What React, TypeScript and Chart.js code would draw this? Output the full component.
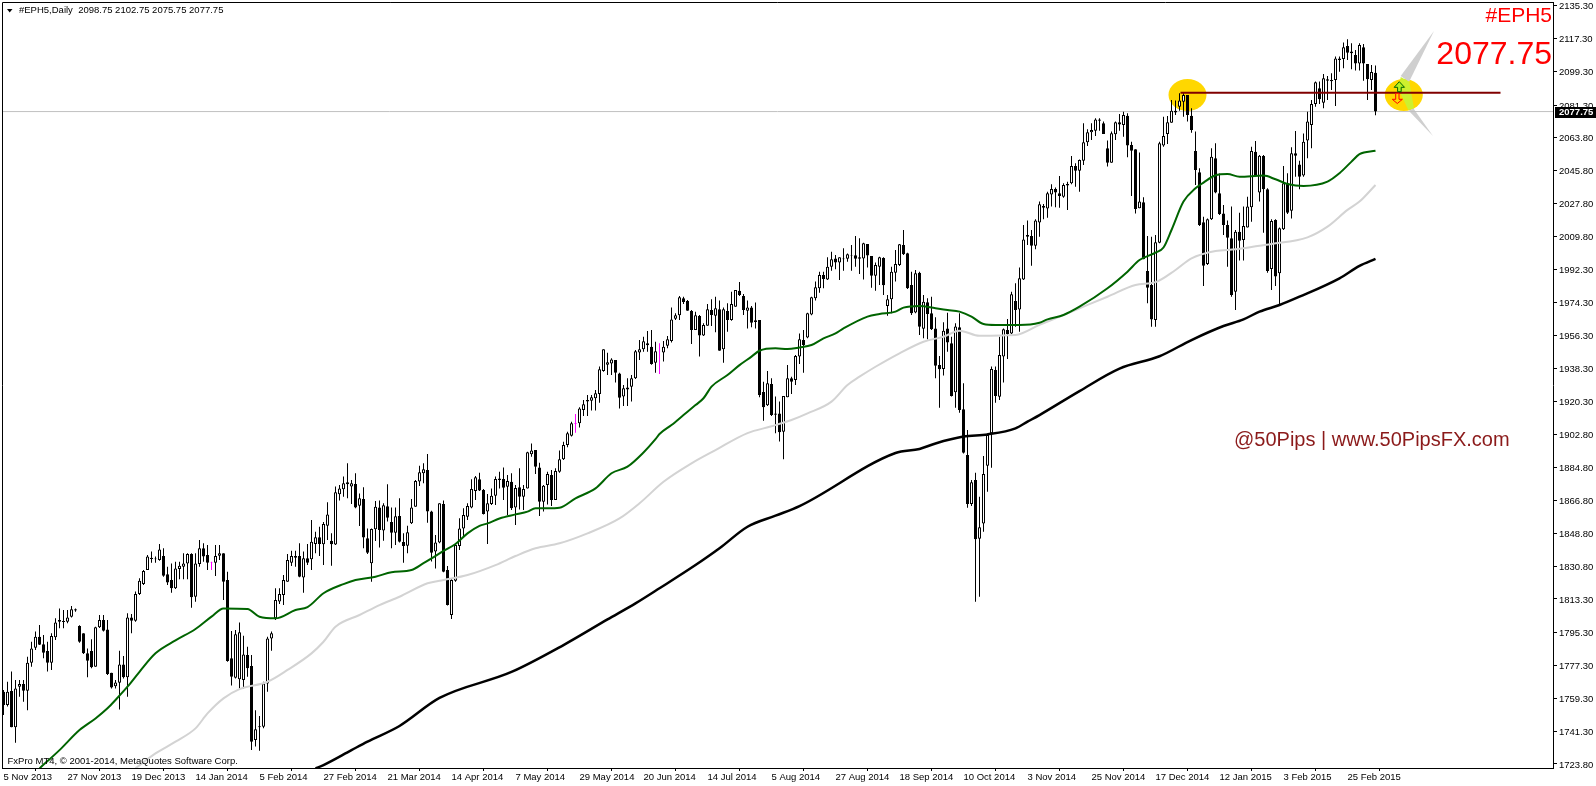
import React, { useEffect, useRef } from "react";
import { Chart, registerables } from "chart.js";

Chart.register(...registerables);

const dateLabels = ["5 Nov 2013","27 Nov 2013","19 Dec 2013","14 Jan 2014","5 Feb 2014","27 Feb 2014","21 Mar 2014","14 Apr 2014","7 May 2014","29 May 2014","20 Jun 2014","14 Jul 2014","5 Aug 2014","27 Aug 2014","18 Sep 2014","10 Oct 2014","3 Nov 2014","25 Nov 2014","17 Dec 2014","12 Jan 2015","3 Feb 2015","25 Feb 2015"];
const priceTicks = [2135.3,2117.3,2099.3,2081.3,2063.8,2045.8,2027.8,2009.8,1992.3,1974.3,1956.3,1938.3,1920.3,1902.8,1884.8,1866.8,1848.8,1830.8,1813.3,1795.3,1777.3,1759.3,1741.3,1723.8];

const opens = [
1763,1755.8,1763.4,1743.7,1765.7,1767.2,1763.5,1778.7,1786.9,1792.8,
1788.7,1785.1,1778.7,1792.5,1801.9,1801.4,1801,1803.7,1807.7,1798.6,
1794.7,1783.8,1785.1,1776.6,1797.9,1801.9,1796.8,1773.3,1766,1767.9,
1777.8,1770.8,1803.3,1801.5,1816,1821.4,1829,1835.7,1835.3,1834.4,
1836.6,1826.7,1823.6,1819.1,1829.6,1830.8,1832.6,1837.7,1814.5,1832.3,
1840.8,1837.2,1833.2,1833,1836.8,1838.1,1823.6,1781.1,1770.6,1769.7,
1769.3,1782.9,1776.9,1736.8,1744.2,1744,1767.5,1791.9,1802.8,1811.9,
1815.5,1822.7,1833,1836.6,1836.6,1824.9,1835.4,1834.8,1843.1,1846.8,
1843,1853.1,1844.9,1842.8,1870.1,1872.8,1875.5,1874.3,1875.7,1863.9,
1867.6,1846.2,1832.7,1851.1,1863,1850.4,1863.6,1855.1,1849.3,1858.3,
1844.2,1842.2,1854.4,1863.4,1877,1881.5,1883.3,1860.7,1839,1843.9,
1864.8,1829,1804.6,1823.2,1842,1851.6,1857.9,1863,1871.9,1878.2,
1872.4,1860.7,1864.8,1869.3,1878.7,1878.4,1874.2,1876.9,1863,1873.9,
1868.8,1873.3,1891.8,1894.1,1884.7,1866.1,1875.1,1880.6,1867,1882.4,
1889.1,1896.8,1901.9,1908.8,1908.6,1915.8,1921.3,1920.9,1922.2,1924.5,
1937,1940.4,1941,1943,1935.7,1923.1,1927,1928.5,1933,1947.1,
1948.8,1952,1950.2,1941.5,1948,1947,1950.7,1953.3,1965.4,1967.2,
1976.4,1975,1969.6,1959.2,1966.8,1956.2,1961.6,1970.1,1967,1970.5,
1948.8,1969.6,1964.7,1971.9,1980.6,1977.7,1969.7,1971.5,1964.5,1964.7,
1925.6,1918.4,1929.9,1914,1914,1904.1,1922.7,1933,1932.1,1944.8,
1953.8,1955.2,1967.6,1976.4,1981.9,1989.1,1986.7,1993.6,1998.1,1995.8,
1998.1,1997.9,1999.9,1999.8,1998.7,1998.1,2005.9,1999.4,1988.7,1993.6,
1998.3,1972.3,1975.9,1990.3,1994.5,2005.4,2000.9,1983.7,1968.8,1990.3,
1959.9,1974.3,1968.3,1960.1,1940.2,1938.1,1960.1,1952,1925.4,1960.7,
1916.2,1891.4,1864.8,1877.8,1846,1854.3,1885.6,1903.2,1937.5,1923,
1944.8,1959.2,1957.4,1975,1970.4,1986.7,2010.8,2010.2,2005,2017.5,
2025.6,2025.1,2032.7,2035.7,2033.4,2031.6,2038.5,2038.8,2048.2,2045.7,
2051.1,2061.1,2066.5,2067.4,2073.5,2071.4,2057.8,2050,2065.4,2071.9,
2070.5,2075.5,2059.6,2057.3,2025.3,2028.5,1991.3,1983.7,1964.7,2006.6,
2059.3,2065.6,2071.7,2078.2,2080.4,2083.1,2086.8,2075.5,2056.4,2044.8,
2017.7,1995,2019.3,2052.4,2033.4,2022.5,2016.2,2009,1980,2012.6,
2008.1,2014.9,2025.8,2056,2033.8,2053.6,2035.6,1992.3,2018.9,1990,
2013.9,2038.8,2024,2055.1,2049.1,2043,2062,2070.5,2081.9,2090.4,
2082.6,2094.5,2094.9,2094.9,2106.6,2106.3,2113.3,2110.3,2108.5,2103.9,
2112.6,2103.6,2094.9,2098.75];
const highs = [
1763.9,1768.4,1773.9,1769.3,1769.3,1769.3,1782,1790.1,1795.6,1799.2,
1793.7,1790.1,1794.7,1802.8,1808.2,1807.3,1807.3,1809.5,1808.2,1799,
1794.7,1786.5,1791.4,1798.3,1804.6,1804.6,1801.9,1773.3,1769.3,1785.2,
1782.4,1805.5,1805.1,1817.3,1824.5,1829,1837.2,1839,1836.3,1843.1,
1840.8,1830.8,1832.6,1833.5,1833.5,1838.1,1838.1,1838.1,1838.1,1845.3,
1843.5,1842.6,1833.5,1842.6,1842.6,1838.1,1828.1,1795.9,1796.5,1800.6,
1793.4,1787.4,1782.9,1753,1749.8,1768.4,1792.8,1795.6,1819.1,1819.1,
1826.3,1837.7,1839.5,1839.5,1843.5,1839,1843.1,1856.2,1849.8,1852.5,
1855.1,1865.8,1848.9,1874.3,1875.2,1879.7,1886.9,1877.9,1881.5,1870.6,
1873.9,1851.6,1851.6,1866.5,1866.7,1865.2,1875.5,1863,1863,1867.9,
1848.9,1853.1,1867.6,1877.9,1885.6,1886.9,1892,1861.2,1848,1865.2,
1866.7,1831.2,1824.5,1842.6,1857.1,1862.5,1865.2,1878.2,1880,1881.8,
1873,1870.2,1873.3,1879.7,1882.4,1884.7,1880.6,1881.5,1875.1,1884.2,
1875.1,1893.2,1897.7,1894.1,1887.2,1875.1,1882.4,1883.3,1884.2,1893.8,
1898.6,1904.1,1909.5,1913.7,1917.3,1921.3,1924,1924,1926.7,1939.4,
1948.8,1946.9,1943.9,1943,1936.1,1929.4,1933,1934.8,1948.4,1953.8,
1955.6,1958.7,1959.2,1952.9,1952,1953.3,1956,1971.4,1968.3,1977.7,
1977.3,1975.5,1970.1,1969.2,1967.4,1962.9,1973.4,1975.9,1977.3,1975.2,
1971.5,1973.7,1980,1981,1985.3,1978.8,1975.2,1972.3,1974.1,1964.7,
1931.2,1937,1933,1923.1,1920.4,1923.4,1940.2,1933.9,1945.7,1957.4,
1959.2,1968.6,1977.3,1985.5,1990.9,1990.9,1998.7,2001.7,1999.9,1998.7,
2003.6,2000.8,2005.4,2010.2,2009,2006.6,2005.9,1999.4,1995.8,1999,
1998.7,1978.2,1993.6,2002.7,2005.9,2013.5,2001.2,1990.9,1991.8,1990.9,
1978.2,1976.4,1977.3,1966.1,1945.1,1963.4,1968.6,1955.6,1962.9,1968.3,
1930.3,1905,1877.8,1881.8,1868.8,1890.9,1903.2,1939.4,1939.4,1955.6,
1960.1,1965.2,1980,1984.6,1993.2,2016.2,2018.6,2013.5,2019.3,2028.9,
2027.6,2034.3,2038.3,2036.6,2042.8,2038.8,2039.7,2053.6,2049.7,2051.8,
2071.4,2068.1,2071.4,2074.1,2074.1,2072.3,2062,2066.9,2072.3,2076.4,
2077.7,2076.8,2061.4,2057.3,2055.5,2031.2,2010.2,2009.9,2010.8,2061.4,
2075,2075.3,2084,2083.7,2087.7,2087.7,2086.8,2079.5,2066.9,2047,
2020.7,2019.8,2057.8,2060.5,2044.2,2027.1,2018.6,2026.2,2013.5,2022.9,
2026.2,2031.6,2058.7,2061.8,2054.2,2054.2,2036.1,2019.3,2019.3,2014.9,
2048.2,2044.3,2058.4,2067.2,2051.1,2065.9,2077.7,2084,2094,2094,
2098.2,2097,2098.5,2107.6,2107.6,2115.2,2117,2114.8,2111.2,2114.8,
2114.4,2103.6,2103,2102.75];
const lows = [
1750.3,1754.9,1743.7,1735.3,1760.3,1757.6,1753,1776.6,1785.6,1788.3,
1781.1,1773.9,1774.8,1791,1797.4,1797.4,1800.1,1803.3,1806.4,1789.6,
1783.4,1770.8,1775.7,1776.6,1797.5,1795.6,1772,1764.8,1764.8,1753.4,
1770.2,1760.3,1794.7,1801,1815.4,1820.9,1829,1833,1833,1834.1,
1825.4,1820.9,1816.7,1818.7,1824,1824,1824,1808.6,1811.8,1830.8,
1833.5,1829,1829,1825.8,1834.4,1812.7,1779.3,1766.3,1770.2,1764.8,
1764.8,1771.1,1731.3,1733.2,1731,1743.1,1763,1785.2,1801.9,1810.6,
1810,1822.7,1831.2,1830.8,1825.1,1816.7,1831.7,1829,1838.1,1836.6,
1831.7,1845.3,1831.4,1842.6,1866.7,1868.8,1867.9,1864.8,1862.5,1852.9,
1840.8,1837.7,1822.7,1844.8,1841.3,1844.9,1855.3,1840.8,1842.6,1843.9,
1833,1838.1,1854,1863.4,1874.6,1876.1,1854.7,1833.6,1829.9,1843.5,
1827.8,1809.7,1802.4,1822.7,1839.9,1846.7,1856.1,1862.5,1867,1871.9,
1859.2,1843.1,1864.3,1864.3,1873.3,1867,1858.9,1861.6,1853.4,1861.9,
1861.6,1873.3,1890.5,1881.1,1858.3,1860.7,1864.6,1863.7,1867,1881.8,
1888.7,1895.6,1901.4,1903.5,1906.4,1912.6,1912.6,1915.5,1915.5,1919.8,
1936.6,1934.8,1934.8,1930.7,1916.7,1918,1918,1920.4,1932.7,1943,
1947.5,1947.5,1940.4,1936.1,1935.4,1942.1,1949.3,1952.4,1964.7,1964.7,
1973.4,1969.7,1951.6,1959.2,1944.8,1956,1961.6,1961.4,1958,1948,
1941.5,1958.3,1964.3,1971.9,1977.7,1967.4,1960.1,1960.7,1960.1,1922.7,
1910,1918,1912.6,1903.2,1898.7,1889.1,1922.7,1924.5,1929.4,1940.8,
1936.1,1954.7,1967.2,1975.2,1979.5,1981.9,1986.4,1991.4,1992.2,1986.4,
1991.4,1996.3,1991.4,1993.6,1989.6,1986.7,1993.2,1982.2,1980.6,1983.7,
1978.2,1967,1968.3,1985.5,1994,1999.9,1981.5,1967.4,1968.3,1956.5,
1954.7,1954.2,1959.2,1933,1917.1,1934.5,1947.5,1923.1,1917.1,1914.4,
1892.3,1862.8,1863.7,1811.8,1814.5,1849.8,1871.5,1884.5,1919.8,1921.3,
1930.7,1943.5,1957.1,1961,1958.3,1986.4,2005.4,1994.1,2003,2009.9,
2019.3,2020.2,2026.2,2025.8,2025.6,2031,2024.3,2038.3,2037,2034.3,
2048.8,2059.1,2062.3,2064.5,2067.4,2065.6,2047.9,2050,2062.3,2067.4,
2064.1,2052.9,2032,2022.5,2025.3,1997.6,1973.7,1961,1961,2006.3,
2058.7,2060.2,2071.7,2075.9,2078.2,2075,2072.3,2066.3,2037.9,2015.7,
1983.1,1994.5,2018.9,2033.4,2021.6,2010.8,1993.6,1977.3,1970.1,1996.9,
1996.9,2014.9,2018,2042.4,2028.9,2012,1990.3,1980.9,1983.1,1972.8,
2013.5,2022.2,2019.8,2042.4,2035.6,2042.4,2052.4,2057.8,2080.4,2081.9,
2079.5,2084,2089.5,2080.8,2099.4,2101.2,2105.7,2100.7,2100,2100,
2094.5,2084,2089.5,2075.75];
const closes = [
1755.8,1763,1743.7,1764.8,1767.2,1763.5,1778.7,1786.5,1792.8,1788.5,
1784.1,1778.7,1793.2,1800.6,1801,1800.8,1803.3,1807.7,1807,1790.1,
1783.8,1779.8,1776.2,1797.9,1801.9,1796.1,1772.6,1765.3,1768,1777.8,
1770.8,1803.3,1801.5,1816,1823.2,1828.5,1836.3,1835,1834.8,1840.2,
1825.9,1822.3,1819.1,1829.9,1831.4,1832.6,1837.7,1814.2,1832.6,1840.8,
1836.3,1833,1833,1836.6,1838.1,1822.7,1779.6,1771.1,1794.1,1795.2,
1783.2,1775.7,1735.9,1742.6,1743.7,1767.5,1791.9,1794.7,1812.8,1816,
1823.6,1834.5,1836.6,1835.7,1825.4,1835.4,1833,1844.4,1846.8,1843.1,
1854,1859.2,1843,1871.2,1873.3,1876.1,1876.6,1876.1,1863,1867.9,
1846.6,1838.4,1851.3,1863.4,1850.7,1864.1,1857.4,1849.3,1858.2,1844.4,
1842,1849.5,1863,1877.3,1882,1883.7,1860.7,1838.4,1844,1865.2,
1828.1,1810,1823.6,1842.6,1851.6,1858.9,1863.7,1873,1879.3,1872.1,
1859.4,1865.2,1869.3,1878.4,1877.8,1873.7,1877.3,1862.5,1873.5,1868.8,
1873,1892.9,1893.8,1885.1,1866.1,1874.8,1881.1,1867,1882.7,1889.1,
1896.8,1903.2,1908.6,1908.4,1916.7,1918.9,1920.4,1922.7,1924.9,1937.9,
1948.8,1941.7,1943.3,1936.1,1922.5,1927.6,1928.1,1933,1947.7,1948.8,
1953.1,1950.9,1940.8,1947.7,1947.7,1950.2,1954.2,1965,1967.2,1977,
1974.4,1969.7,1959.2,1967.2,1956.2,1962,1970.5,1967.4,1971,1948,
1970.5,1964.7,1973.4,1981,1978.2,1970.1,1971.5,1963.2,1963.6,1924,
1917.3,1930.3,1913.1,1913.3,1903.7,1923.4,1933,1931.2,1945.1,1954.2,
1951.1,1968.3,1977,1982.4,1989.1,1986.9,1993.6,1997.6,1995.8,1998.7,
1997.6,2000.3,1999.6,1997.9,1997.9,2006.3,1999.6,1988.7,1994.5,1998.7,
1983.5,1975.9,1990.9,1995,2005.7,2000.3,1981.9,1968.3,1990,1961,
1974.6,1967.9,1959.6,1939.9,1937.9,1958.9,1952.4,1923.4,1961.1,1915.8,
1892.7,1864.8,1876.6,1845.7,1852.2,1881.1,1902.3,1938.1,1923.4,1945.7,
1959.6,1957.1,1978.6,1970.1,1987.3,2008.4,2009.9,2005,2018.6,2027.4,
2026.5,2033.4,2035.7,2033.9,2032,2037.9,2037.7,2048.2,2045.7,2051.5,
2061.1,2066.5,2067.8,2073.5,2072.8,2065.6,2050,2066,2071.9,2070.7,
2075.9,2059.3,2056.5,2024.9,2028.9,1997.6,1982.2,1965,2006.8,2060.5,
2064.5,2071.9,2078.2,2077.3,2083.7,2086.8,2075.9,2067.7,2046,2016.2,
1994.1,2019.3,2053.3,2033.8,2022.2,2016.2,2009.3,1978.2,2012.6,2007.7,
2015.7,2026.2,2056.4,2043,2053.8,2035.6,1991.3,2018.4,1988.2,2014.4,
2038.8,2022.9,2055.1,2053.8,2042.4,2061.4,2072.3,2081.9,2093.6,2084.4,
2095.8,2095.3,2094.2,2106.6,2105.7,2112.6,2109.7,2109.4,2103.9,2113.9,
2103.9,2095.3,2099.2,2077.75];
const pinkBars = [52, 143, 164];

const greenBars = [9,14,19,23,26,28,31,34,38,43,48,52,55,61,64,68,73,76,80,85,88,93,97,102,105,107,110,113,116,119,121,124,128,131,133,136,139,143,148,152,156,160,163,164,167,170,173,175,177,181,184,187,189,193,196,199,202,205,208,210,216,219,223,225,229,233,236,239,242,245,248,254,259,261,265,269,276,281,284,288,290,292,295,298,300,303,306,309,315,318,321,325,331,334,337,339,343];
const greenValues = [1721.4,1731.3,1742.2,1748.5,1754,1758.5,1765.7,1773.8,1783.8,1790.8,1797,1803.7,1808.2,1807.9,1803.7,1802.8,1807.3,1808.9,1816.4,1821.4,1823.6,1825.4,1827.8,1829,1832.7,1835.3,1839.4,1843.1,1848.9,1853,1854.3,1857,1859.2,1860.7,1862.5,1862.5,1862.8,1867.9,1873.3,1881.5,1885.1,1892.8,1900,1902.8,1907.7,1913.1,1918.5,1922.2,1928.5,1934.8,1940.2,1944.8,1948,1949.3,1948.9,1949.8,1951.1,1954.7,1957.4,1960.1,1966.5,1967.9,1969.2,1971.4,1972.3,1971,1970.1,1969.2,1966.5,1962.5,1962,1962,1963.2,1965,1967.4,1971.9,1981.9,1990.9,1997.2,2001.2,2004,2013.5,2028.9,2036.1,2039.2,2043.2,2043.9,2042.4,2043,2041,2038.5,2037.4,2039.7,2044.3,2050.6,2054.7,2056.5];
const greyBars = [33,38,43,48,51,55,59,66,71,77,80,83,89,94,99,106,110,116,123,128,133,139,146,154,159,165,172,178,186,192,197,201,207,211,214,218,224,230,235,239,244,253,259,263,269,276,283,288,293,297,303,308,314,317,326,331,336,339,343];
const greyValues = [1721.4,1729.5,1735.9,1743.1,1751.2,1759.4,1764.4,1768.4,1774.8,1783.8,1790.1,1798.3,1804.6,1810,1814.5,1821.8,1823.6,1826.3,1831.7,1836.6,1840.8,1843.5,1848.9,1857,1865.2,1876.9,1886.9,1894.1,1903.3,1907,1910.4,1914,1920.4,1929.4,1933.9,1939.3,1946.6,1952.9,1955.6,1958.9,1956.1,1956.5,1962,1965.6,1971,1977.3,1983.7,1985.2,1991.8,1998.1,2002.1,2003,2005,2005.9,2009.5,2015.3,2024.4,2028.9,2037.9];
const blackBars = [78,80,87,91,99,109,127,140,151,158,164,173,179,186,193,199,223,229,233,240,246,253,256,259,269,279,289,297,305,310,314,319,324,334,339,343];
const blackValues = [1721.4,1723.2,1731.3,1735.9,1744.4,1759.6,1773.7,1788.3,1802.2,1810.9,1819.1,1831.7,1840.8,1852.5,1858.5,1863.7,1892.5,1894.7,1897.7,1901.4,1902.6,1905.9,1909.5,1913.1,1926.1,1938.3,1945,1953.8,1961.4,1965,1969.2,1972.8,1977.3,1987.3,1994,1997.8];

const lastPrice = 2077.75;
const trendPrice = 2088;
const trendBars = [294.25, 374.25];
const ellipseBars = [296, 350];
const labelSymbol = "#EPH5";
const labelPrice = "2077.75";
const labelSite = "@50Pips | www.50PipsFX.com";
const labelHeader = "#EPH5,Daily  2098.75 2102.75 2075.75 2077.75";
const labelCopyright = "FxPro MT4, © 2001-2014, MetaQuotes Software Corp.";

const AXIS_FONT = '"Liberation Sans"';

const poly = (ctx: CanvasRenderingContext2D, pts: number[][], fill: string, stroke?: string) => {
  ctx.beginPath();
  pts.forEach((p, i) => (i ? ctx.lineTo(p[0], p[1]) : ctx.moveTo(p[0], p[1])));
  ctx.closePath();
  ctx.fillStyle = fill;
  ctx.fill();
  if (stroke) {
    ctx.strokeStyle = stroke;
    ctx.lineWidth = 1;
    ctx.stroke();
  }
};

const annotations = {
  id: "annotations",
  beforeDatasetsDraw(chart: any) {
    const { ctx, scales } = chart;
    const y = scales.y.getPixelForValue(trendPrice) + 2.3;
    ctx.save();
    ctx.fillStyle = "#FFD700";
    ellipseBars.forEach((b) => {
      ctx.beginPath();
      ctx.ellipse(scales.x.getPixelForValue(b) + 0.3 * (b === 296 ? 0 : 1), y, 19, 16, 0, 0, Math.PI * 2);
      ctx.fill();
    });
    poly(ctx, [[1434, 31], [1400.7, 76], [1409, 82]], "#CFCFCF");
    poly(ctx, [[1433, 136], [1408.7, 110.7], [1413.3, 108.3]], "#CFCFCF");
    poly(ctx, [[1400.7, 77], [1409.3, 81.7], [1414, 108.3], [1408.3, 110], [1399, 90]], "#CDF02E");
    ctx.restore();
  },
  afterDatasetsDraw(chart: any) {
    const { ctx } = chart;
    ctx.save();
    poly(ctx, [[1399.3, 81.7], [1404.5, 87.3], [1401.2, 87.3], [1401.2, 91.7], [1397.6, 91.7], [1397.6, 87.3], [1394.2, 87.3]], "#B4F020", "#006400");
    poly(ctx, [[1395.7, 93.3], [1399, 93.3], [1399, 99.3], [1402.4, 99.3], [1397.3, 103.5], [1392.3, 99.3], [1395.7, 99.3]], "#FFD700", "#FF0000");
    ctx.textBaseline = "middle";
    ctx.textAlign = "right";
    ctx.fillStyle = "#FF0000";
    ctx.font = '21px "Liberation Sans"';
    ctx.fillText(labelSymbol, 1552, 16);
    ctx.font = '32px "Liberation Sans"';
    ctx.fillText(labelPrice, 1552, 55);
    ctx.textAlign = "left";
    ctx.fillStyle = "#8B1A1A";
    ctx.font = '20px "Liberation Sans"';
    ctx.fillText(labelSite, 1234, 440);
    ctx.fillStyle = "#000000";
    ctx.font = `9.5px ${AXIS_FONT}`;
    ctx.fillText(labelHeader, 19, 10.5);
    ctx.fillText(labelCopyright, 7.5, 761);
    poly(ctx, [[7, 9], [12.5, 9], [9.7, 12.5]], "#000000");
    ctx.restore();
  },
  afterDraw(chart: any) {
    const { ctx, chartArea: a, scales } = chart;
    ctx.save();
    ctx.strokeStyle = "#000000";
    ctx.lineWidth = 1;
    ctx.beginPath();
    ctx.moveTo(2.5, 768);
    ctx.lineTo(2.5, 2.5);
    ctx.lineTo(a.right, 2.5);
    ctx.stroke();
    const py = Math.round(scales.y.getPixelForValue(lastPrice));
    ctx.fillStyle = "#000000";
    ctx.fillRect(1555, py - 5, 41, 11);
    ctx.fillStyle = "#FFFFFF";
    ctx.font = `bold 9.5px ${AXIS_FONT}`;
    ctx.textAlign = "left";
    ctx.textBaseline = "middle";
    ctx.fillText(labelPrice, 1559, py + 0.5);
    ctx.restore();
  },
};

export default function App() {
  const ref = useRef<HTMLCanvasElement>(null);
  useEffect(() => {
    const isPink = (i: number) => pinkBars.includes(i);
    const line = (bars: number[], vals: number[], color: string, width: number, order: number, smooth = false) => ({
      type: "line" as const,
      data: bars.map((b, i) => ({ x: b, y: vals[i] })),
      borderColor: color,
      borderWidth: width,
      pointRadius: 0,
      cubicInterpolationMode: smooth ? "monotone" : "default",
      order,
    });
    const chart = new Chart(ref.current as HTMLCanvasElement, {
      type: "bar",
      data: {
        datasets: [
          line([-0.375, 387.375], [lastPrice, lastPrice], "#C0C0C0", 1, 5),
          {
            data: highs.map((h, i) => ({ x: i, y: [lows[i], h] })),
            backgroundColor: highs.map((_, i) => (isPink(i) ? "#FF00FF" : "#000000")),
            barThickness: 1,
            grouped: false,
            inflateAmount: 0,
            borderWidth: 0,
            order: 4,
          },
          {
            data: opens.map((o, i) => ({ x: i, y: [o, closes[i]] })),
            backgroundColor: opens.map((o, i) => (isPink(i) ? "#FF00FF" : closes[i] >= o ? "#FFFFFF" : "#000000")),
            borderColor: opens.map((_, i) => (isPink(i) ? "#FF00FF" : "#000000")),
            borderWidth: 1,
            borderSkipped: false,
            barThickness: 3,
            grouped: false,
            inflateAmount: 0,
            order: 3,
          },
          line(blackBars, blackValues, "#000000", 2.5, 2, true),
          line(greyBars, greyValues, "#D3D3D3", 2, 2, true),
          line(greenBars, greenValues, "#006400", 2, 1, true),
          line(trendBars, [trendPrice, trendPrice], "#800000", 2, 0),
        ] as any,
      },
      options: {
        responsive: false,
        animation: false,
        layout: { padding: { left: 2, top: 2, right: 0, bottom: 0 } },
        plugins: { legend: { display: false }, tooltip: { enabled: false } },
        scales: {
          x: {
            type: "linear",
            offset: false,
            min: -0.375,
            max: 387.375,
            afterBuildTicks: (s: any) => {
              s.ticks = dateLabels.map((_, k) => ({ value: k * 16 }));
            },
            afterFit: (s: any) => {
              s.height = 18;
              s.paddingLeft = 0;
              s.paddingRight = 0;
            },
            grid: { drawOnChartArea: false, tickLength: 3, color: "#000000" },
            border: { color: "#000000" },
            ticks: {
              autoSkip: false,
              maxRotation: 0,
              minRotation: 0,
              align: "start",
              padding: 1,
              color: "#000000",
              font: { family: AXIS_FONT, size: 9.5 },
              callback: (v: any) => dateLabels[Math.round(v / 16)],
            },
          },
          y: {
            position: "right",
            min: 1721.6,
            max: 2137.2,
            afterBuildTicks: (s: any) => {
              s.ticks = priceTicks.map((value) => ({ value }));
            },
            afterFit: (s: any) => {
              s.width = 43;
              s.paddingTop = 0;
              s.paddingBottom = 0;
            },
            grid: { drawOnChartArea: false, tickLength: 4, color: "#000000" },
            border: { color: "#000000" },
            ticks: {
              autoSkip: false,
              padding: 2,
              labelOffset: 1,
              color: "#000000",
              font: { family: AXIS_FONT, size: 9.5 },
              callback: (v: any) => Number(v).toFixed(2),
            },
          },
        },
      } as any,
      plugins: [annotations],
    } as any);
    return () => chart.destroy();
  }, []);
  return (
    <div style={{ position: "fixed", left: 0, top: 0, width: 1596, height: 786, background: "#ffffff" }}>
      <canvas ref={ref} width={1596} height={786} style={{ display: "block" }} />
    </div>
  );
}
